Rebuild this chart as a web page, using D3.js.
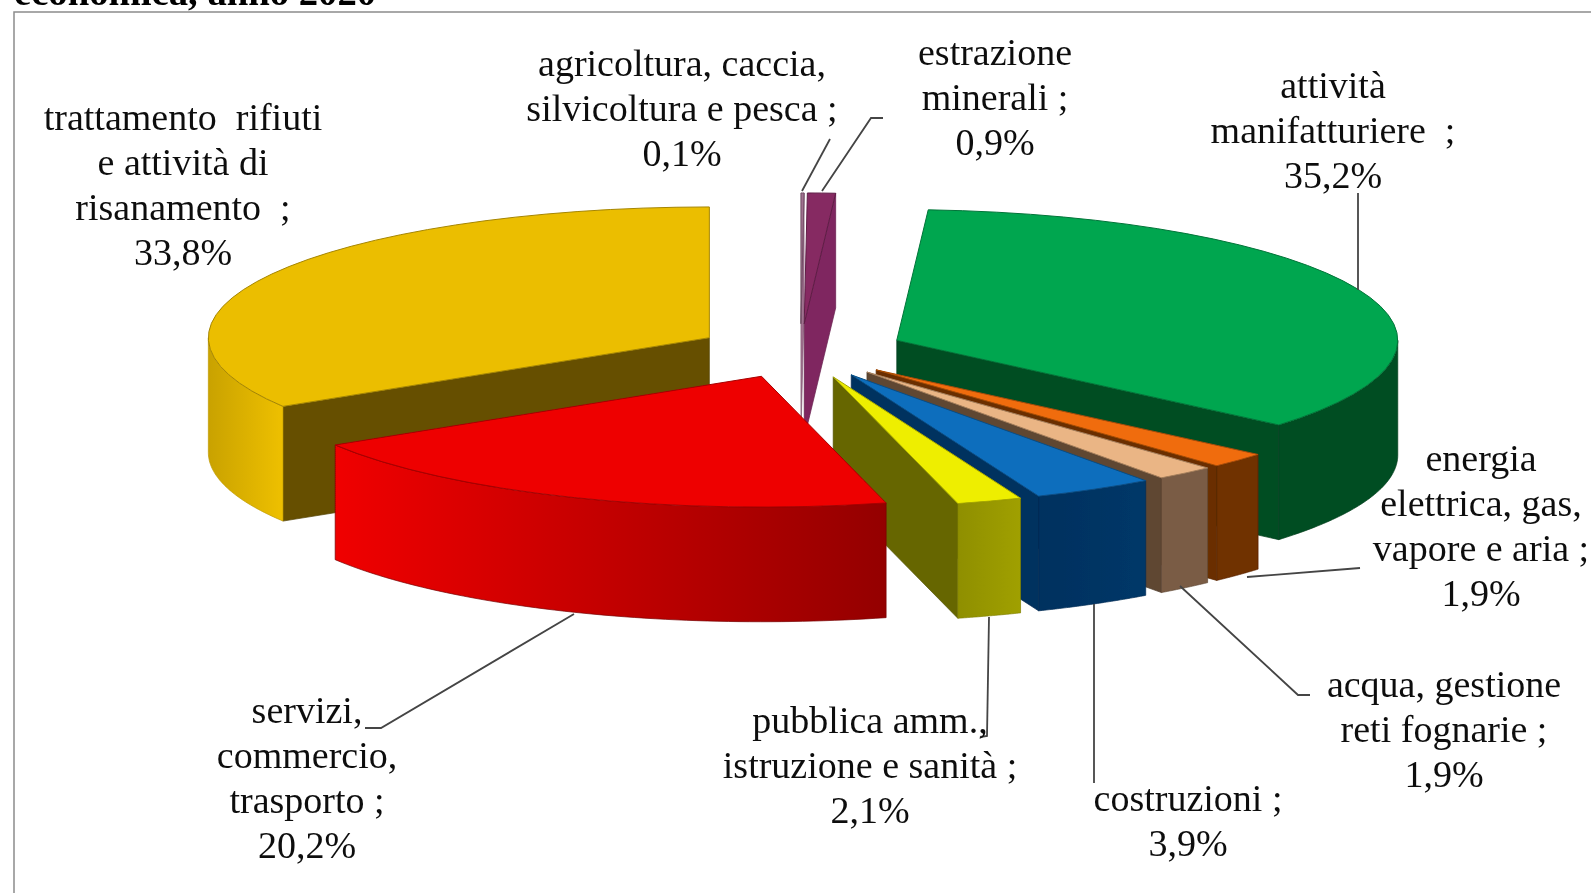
<!DOCTYPE html>
<html>
<head>
<meta charset="utf-8">
<title>economica, anno 2020</title>
<script src="https://cdn.jsdelivr.net/npm/d3@7"></script>
<style>
  html, body { margin: 0; padding: 0; background: #fff; overflow: hidden; }
  text { font-family: "Liberation Serif", serif; fill: #111; }
</style>
</head>
<body>
<div id="chart"></div>
<script>
const titolo = "economica, anno 2020";

const categorie = [
  ["agricoltura, caccia,", "silvicoltura e pesca ;"],
  ["estrazione", "minerali ;"],
  ["attività", "manifatturiere  ;"],
  ["energia", "elettrica, gas,", "vapore e aria ;"],
  ["acqua, gestione", "reti fognarie ;"],
  ["costruzioni ;"],
  ["pubblica amm.,", "istruzione e sanità ;"],
  ["servizi,", "commercio,", "trasporto ;"],
  ["trattamento  rifiuti", "e attività di", "risanamento  ;"]
];
const valori = [0.1, 0.9, 35.2, 1.9, 1.9, 3.9, 2.1, 20.2, 33.8];
const etichetteValori = ["0,1%", "0,9%", "35,2%", "1,9%", "1,9%", "3,9%", "2,1%", "20,2%", "33,8%"];

// top face, radial wall, rim wall (left and right end of the rim shading)
const coloriTop = ["#a0708f", "#862a62", "#00a650", "#f06c0a", "#eab585", "#0a6ebd", "#eeee00", "#ee0000", "#ebbe00"];
const coloriParete = ["#a0708f", "#7f2860", "#004d22", "#6b2f00", "#5e4733", "#00305f", "#666600", "#990000", "#665000"];
const coloriBordoA = ["#a0708f", "#7f2860", "#004d22", "#6f3000", "#7a5c45", "#00305f", "#8f8f00", "#f00000", "#c9a200"];
const coloriBordoB = ["#a0708f", "#7f2860", "#004d22", "#6f3000", "#7a5c45", "#003868", "#a0a000", "#940000", "#eec000"];

// label anchor (centre x, first baseline) and leader polyline
const posEtichette = [
  { x: 682, y: 76, leader: [[830, 139], [802, 191]] },
  { x: 995, y: 65, leader: [[883, 118], [871, 118], [822, 191]] },
  { x: 1333, y: 98, leader: [[1358, 193], [1358, 290]] },
  { x: 1481, y: 471, leader: [[1360, 568], [1247, 577]] },
  { x: 1444, y: 697, leader: [[1310, 695], [1298, 695], [1180, 586]] },
  { x: 1188, y: 811, leader: [[1094, 783], [1094, 604]] },
  { x: 870, y: 733, leader: [[980, 737], [987, 736], [989, 617]] },
  { x: 307, y: 723, leader: [[365, 728], [381, 728], [574, 614]] },
  { x: 183, y: 130, leader: null }
];

const width = 1591;
const height = 893;
const cx = 800.6, cy = 351;
const raggio = 501, schiacciamento = 0.261, esplosione = 104.5, spessore = 114.7;
const passoRiga = 45;

const svg = d3.select("#chart").append("svg")
  .attr("width", width)
  .attr("height", height)
  .attr("viewBox", [0, 0, width, height]);

const defs = svg.append("defs");
defs.append("filter").attr("id", "sfoca")
  .attr("x", "-5%").attr("y", "-5%").attr("width", "110%").attr("height", "110%")
  .append("feGaussianBlur").attr("stdDeviation", 0.65);

const root = svg.append("g").attr("filter", "url(#sfoca)");

root.append("text")
  .attr("x", 14).attr("y", 5)
  .attr("font-size", 38.7).attr("font-weight", "bold")
  .style("fill", "#000")
  .text(titolo);

root.append("rect")
  .attr("x", 14).attr("y", 12)
  .attr("width", width + 20).attr("height", height + 20)
  .attr("fill", "none").attr("stroke", "#8c8c8c").attr("stroke-width", 1.5);

const torta = d3.pie().sort(null).startAngle(0).endAngle(2 * Math.PI);
const fette = torta(valori).map((d, i) => {
  const medio = (d.startAngle + d.endAngle) / 2;
  return {
    ...d,
    i,
    ox: cx + esplosione * Math.sin(medio),
    oy: cy - esplosione * schiacciamento * Math.cos(medio)
  };
});

const arco = d3.arc().innerRadius(0).outerRadius(raggio);
const linea = d3.line();
const puntoBordo = (f, a) => [f.ox + raggio * Math.sin(a), f.oy - raggio * schiacciamento * Math.cos(a)];

// rim wall, only where the rim faces the viewer
const parteFrontale = (f) => {
  const a0 = Math.max(f.startAngle, Math.PI / 2);
  const a1 = Math.min(f.endAngle, 3 * Math.PI / 2);
  return a1 > a0 ? [a0, a1] : null;
};

// back to front, the red slice lies over everything near it
const ordine = [0, 1, 2, 3, 4, 5, 6, 8, 7];

ordine.forEach((idx) => {
  const f = fette[idx];
  const g = root.append("g");
  const centro = [f.ox, f.oy];

  // radial wall: the start edge shows on the left half, the end edge on the right half
  const angoloParete = f.startAngle >= Math.PI ? f.startAngle : (f.endAngle <= Math.PI ? f.endAngle : null);
  if (angoloParete !== null) {
    const p = puntoBordo(f, angoloParete);
    g.append("path")
      .attr("d", linea([centro, p, [p[0], p[1] + spessore], [f.ox, f.oy + spessore]]) + "Z")
      .attr("fill", coloriParete[idx])
      .attr("stroke", d3.color(coloriParete[idx]).darker(0.6))
      .attr("stroke-width", 0.7);
  }

  const fronte = parteFrontale(f);
  if (fronte) {
    const angoli = d3.range(0, 61).map(k => fronte[0] + (fronte[1] - fronte[0]) * k / 60);
    const sopra = angoli.map(a => puntoBordo(f, a));
    const sotto = sopra.map(p => [p[0], p[1] + spessore]).reverse();
    const xs = d3.extent(sopra, p => p[0]);
    const idGrad = "bordo" + idx;
    const grad = defs.append("linearGradient").attr("id", idGrad)
      .attr("gradientUnits", "userSpaceOnUse")
      .attr("x1", xs[0]).attr("x2", xs[1]).attr("y1", 0).attr("y2", 0);
    grad.append("stop").attr("offset", "0%").attr("stop-color", coloriBordoA[idx]);
    grad.append("stop").attr("offset", "100%").attr("stop-color", coloriBordoB[idx]);
    g.append("path")
      .attr("d", linea(sopra.concat(sotto)) + "Z")
      .attr("fill", `url(#${idGrad})`)
      .attr("stroke", d3.color(coloriBordoB[idx]).darker(0.6))
      .attr("stroke-width", 0.7);
  }

  g.append("path")
    .attr("transform", `translate(${f.ox},${f.oy}) scale(1,${schiacciamento})`)
    .attr("d", arco({ startAngle: f.startAngle, endAngle: f.endAngle }))
    .attr("fill", coloriTop[idx])
    .attr("stroke", d3.color(coloriTop[idx]).darker(1))
    .attr("stroke-width", 1)
    .attr("vector-effect", "non-scaling-stroke");
});

// leaders
posEtichette.forEach((p) => {
  if (!p.leader) return;
  root.append("path")
    .attr("d", linea(p.leader))
    .attr("fill", "none")
    .attr("stroke", "#444")
    .attr("stroke-width", 1.8);
});

// labels
categorie.forEach((righe, i) => {
  const t = root.append("text")
    .attr("text-anchor", "middle")
    .attr("font-size", 38);
  righe.concat(etichetteValori[i]).forEach((r, k) => {
    t.append("tspan")
      .attr("x", posEtichette[i].x)
      .attr("y", posEtichette[i].y + k * passoRiga)
      .attr("xml:space", "preserve")
      .text(r);
  });
});
</script>
</body>
</html>
